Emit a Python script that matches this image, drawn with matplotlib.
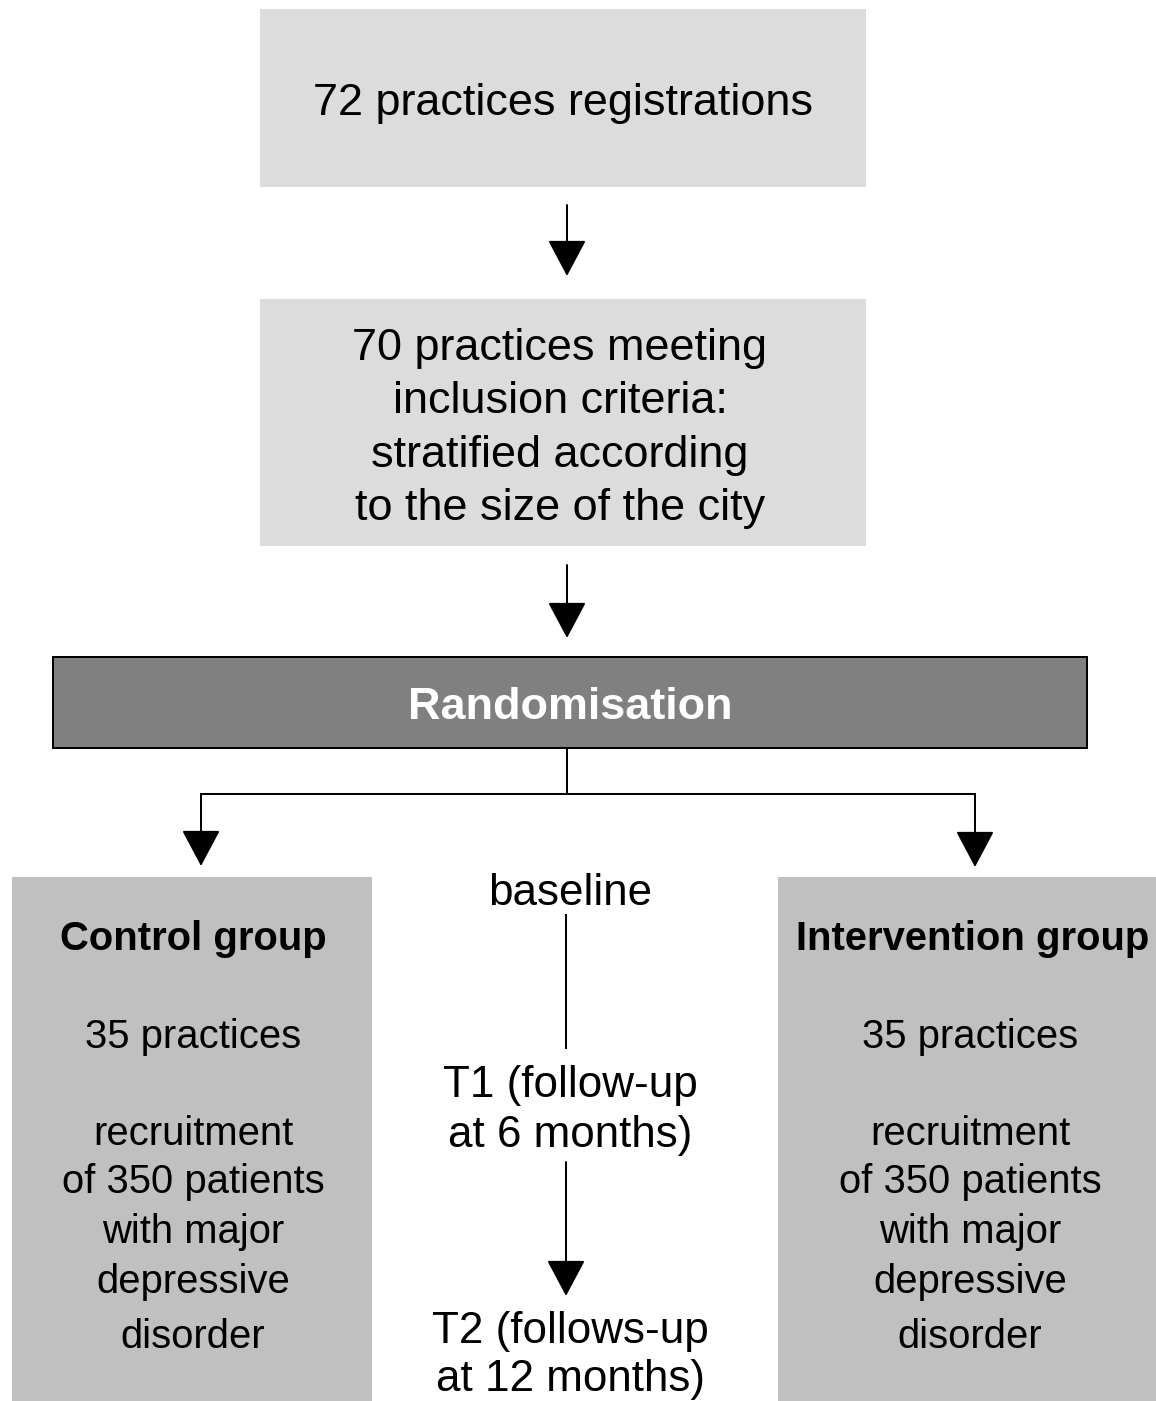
import matplotlib
matplotlib.use("Agg")
import matplotlib.pyplot as plt
from matplotlib.patches import Rectangle, ArrowStyle

plt.rcParams['font.family'] = ['Liberation Sans', 'DejaVu Sans']

# flowchart texts
top_text = ["72 practices registrations"]
incl_text = ["70 practices meeting", "inclusion criteria:",
             "stratified according", "to the size of the city"]
rand_text = "Randomisation"
control_title = "Control group"
interv_title = "Intervention group"
group_lines = ["35 practices", "recruitment", "of 350 patients",
               "with major", "depressive", "disorder"]
timeline = ["baseline", "T1 (follow-up", "at 6 months)",
            "T2 (follows-up", "at 12 months)"]

W, H = 1156, 1401
fig = plt.figure(figsize=(W / 100, H / 100), dpi=100)
ax = fig.add_axes([0, 0, 1, 1])
ax.set_xlim(0, W)
ax.set_ylim(H, 0)
ax.axis('off')

PX = 0.72  # points per pixel at 100 dpi
lw = 2 * PX

# boxes
ax.add_patch(Rectangle((260, 9), 606, 178, fc='#dcdcdc', ec='none'))
ax.add_patch(Rectangle((260, 299), 606, 247, fc='#dcdcdc', ec='none'))
ax.add_patch(Rectangle((53, 657), 1034, 91, fc='#808080', ec='black', lw=lw))
ax.add_patch(Rectangle((12, 877), 360, 530, fc='#c0c0c0', ec='none'))
ax.add_patch(Rectangle((778, 877), 390, 530, fc='#c0c0c0', ec='none'))

head = ArrowStyle('-|>', head_length=32 * PX, head_width=17 * PX)


def arrow(x, y0, y1):
    ax.annotate('', xy=(x, y1), xytext=(x, y0),
                arrowprops=dict(arrowstyle=head, color='black', lw=lw,
                                shrinkA=0, shrinkB=0, mutation_scale=1))


arrow(567, 205, 276)
arrow(567, 565, 638)
ax.plot([567, 567], [748, 794], color='black', lw=lw, solid_capstyle='butt')
ax.plot([201, 975], [794, 794], color='black', lw=lw, solid_capstyle='projecting')
arrow(201, 794, 866)
arrow(975, 794, 867)
ax.plot([566, 566], [915, 1048], color='black', lw=lw)
arrow(566, 1162, 1296)

# texts
big = 45 * PX
mid = 44 * PX
small = 40 * PX

ax.text(563, 115, top_text[0], fontsize=big, ha='center', va='baseline')
for t, yb in zip(incl_text, [360, 413, 467, 520]):
    ax.text(560, yb, t, fontsize=big, ha='center', va='baseline')
ax.text(570, 719, rand_text, fontsize=big, fontweight='bold', color='white',
        ha='center', va='baseline')

for t, yb in zip(timeline, [905, 1097, 1147, 1343, 1391]):
    ax.text(570, yb, t, fontsize=mid, ha='center', va='baseline')

group_y = [1048, 1145, 1193, 1243, 1293, 1348]
ax.text(193, 950, control_title, fontsize=small, fontweight='bold',
        ha='center', va='baseline')
ax.text(973, 950, interv_title, fontsize=small, fontweight='bold',
        ha='center', va='baseline')
for t, yb in zip(group_lines, group_y):
    ax.text(193, yb, t, fontsize=small, ha='center', va='baseline')
    ax.text(970, yb, t, fontsize=small, ha='center', va='baseline')

fig.savefig('out.png', dpi=100)
